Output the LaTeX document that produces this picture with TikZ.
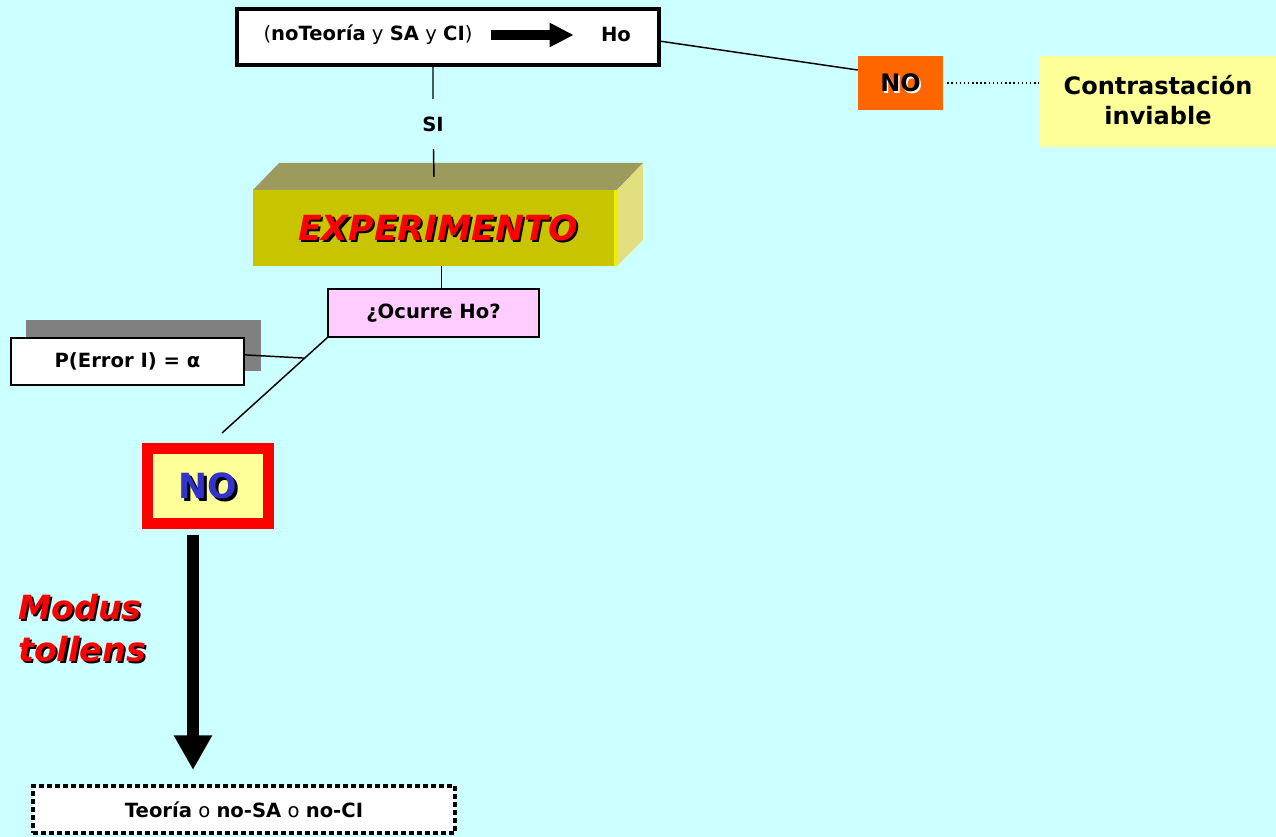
\documentclass[tikz,border=0pt]{standalone}
\usepackage{fontspec}
\setmainfont{DejaVu Sans}
\usetikzlibrary{arrows.meta,calc}

\definecolor{sky}{HTML}{CCFFFF}
\definecolor{orangebox}{HTML}{FF6600}
\definecolor{paleyellow}{HTML}{FFFF99}
\definecolor{olivefront}{HTML}{C8C400}
\definecolor{olivetop}{HTML}{9C9A5C}
\definecolor{oliveside}{HTML}{E2E07E}
\definecolor{oliveedge}{HTML}{EEEE00}
\definecolor{pinkbox}{HTML}{FFCCFF}
\definecolor{greyshade}{HTML}{808080}
\definecolor{noblue}{HTML}{3333CC}

% text with a drop shadow: #1 offset, #2 shadow colour, #3 text colour, #4 text
\newcommand\shadowed[4]{\makebox[0pt][l]{\hspace*{#1}\raisebox{-#1}[0pt][0pt]{\color{#2}#4}}\textcolor{#3}{#4}}

\tikzset{
  panel/.style={draw=black, line width=1.1pt, inner sep=0pt, outer sep=0pt},
  link/.style={draw=black, line width=1.1pt},
  bigarrow/.style={line width=9pt, -{Triangle[length=26pt,width=27pt]}},
  smallarrow/.style={line width=7.5pt, -{Triangle[length=18pt,width=17pt]}},
  bodytext/.style={font=\fontsize{14.7}{17}\selectfont},
  boldtext/.style={font=\bfseries\fontsize{14.7}{17}\selectfont},
}

\begin{document}
\begin{tikzpicture}[x=0.75pt,y=-0.75pt]
\fill[sky] (0,0) rectangle (1276,837);
\useasboundingbox (0,0) rectangle (1276,837);

% implication box
\node[panel, fill=white, line width=3pt, minimum width=316.5pt, minimum height=42pt] (top) at (448,37) {};
\node[bodytext] (toptext) at (368,35) {(\textbf{noTeoría} y \textbf{SA} y \textbf{CI})};
\node[boldtext] (ho) at (616,35) {Ho};
\draw[smallarrow, shorten <=10pt, shorten >=17pt] (toptext.east) -- (ho.west);

% NO branch: test not feasible
\node[fill=orangebox, inner sep=0pt, minimum width=63.75pt, minimum height=40.5pt,
      font=\bfseries\fontsize{18}{20}\selectfont] (noA) at (900.5,83)
      {\shadowed{1.2pt}{white}{black}{NO}};
\node[fill=paleyellow, inner sep=0pt, minimum width=177pt, minimum height=68.25pt,
      align=center, font=\bfseries\fontsize{18}{22.5}\selectfont] (contr) at (1158,101.5)
      {\raisebox{3pt}{Contrastación}\\\raisebox{3pt}{inviable}};
\draw[link] ([yshift=-3pt]top.east) -- ([yshift=9.75pt]noA.west);
\draw[dotted, line width=1.1pt, shorten <=3pt, shorten >=1pt] (noA.east) -- (noA.east -| contr.west);

% SI branch
\node[boldtext, inner xsep=2pt, inner ysep=13pt] (si) at (433,124) {SI};

% experiment block
\node[fill=olivefront, inner sep=0pt, outer sep=0pt, minimum width=273pt, minimum height=57pt] (exp) at (435,228) {};
\fill[olivetop] (exp.north west) -- ++(26,-27) -- ++(364,0) -- (exp.north east) -- cycle;
\fill[oliveside] (exp.north east) -- ++(26,-27) -- ++(0,77) -- (exp.south east) -- cycle;
\draw[oliveedge, line width=2pt] ([xshift=-1pt]exp.north east) -- ([xshift=-1pt]exp.south east);
\node[font=\bfseries\itshape\fontsize{26}{30}\selectfont] (exptext) at (438,228)
      {\shadowed{1.6pt}{black}{red}{EXPERIMENTO}};
\coordinate (expin) at (434,177);
\draw[link] (top.south -| si) -- (si) -- (expin);

% question
\node[panel, fill=pinkbox, minimum width=158.25pt, minimum height=36pt, boldtext] (ocurre) at (433.5,313) {¿Ocurre Ho?};
\draw[link] ([xshift=5pt]exp.south) -- ([xshift=5pt]exp.south |- ocurre.north);

% type I error
\node[fill=greyshade, inner sep=0pt, minimum width=176.25pt, minimum height=38.25pt] (pshadow) at (143.5,345.5) {};
\node[panel, fill=white, minimum width=174.75pt, minimum height=35.25pt, boldtext] (pbox) at (127.5,361.5) {P(Error I) = α};

% NO branch after the experiment
\coordinate (diagend) at (222,433);
\draw[link] (ocurre.south west) -- (diagend);
\coordinate (errjoin) at ($(ocurre.south west)!0.22!(diagend)$);
\draw[link] ([yshift=5pt]pbox.east) -- (errjoin);

\node[draw=red, line width=8.25pt, fill=paleyellow, inner sep=0pt, outer sep=0pt,
      minimum width=90.75pt, minimum height=56.6pt,
      font=\bfseries\fontsize{26}{30}\selectfont] (nored) at (208,486.25)
      {\shadowed{1.8pt}{black}{noblue}{NO}};

% conclusion
\node[fill=white, draw=black, line width=3pt, dash pattern=on 3.6pt off 2.4pt,
      inner sep=0pt, outer sep=0pt, minimum width=316.5pt, minimum height=35.25pt,
      bodytext] (theses) at (244,809.5)
      {\textbf{Teoría} o \textbf{no-SA} o \textbf{no-CI}};
\draw[bigarrow, shorten <=8.25pt, shorten >=12pt] ([xshift=-11.25pt]nored.south) -- ([xshift=-11.25pt]nored.south |- theses.north);

\node[align=left, font=\bfseries\itshape\fontsize{25}{32}\selectfont] (modus) at (82,628)
      {\shadowed{1.6pt}{black}{red}{Modus}\\\shadowed{1.6pt}{black}{red}{tollens}};
\end{tikzpicture}
\end{document}
